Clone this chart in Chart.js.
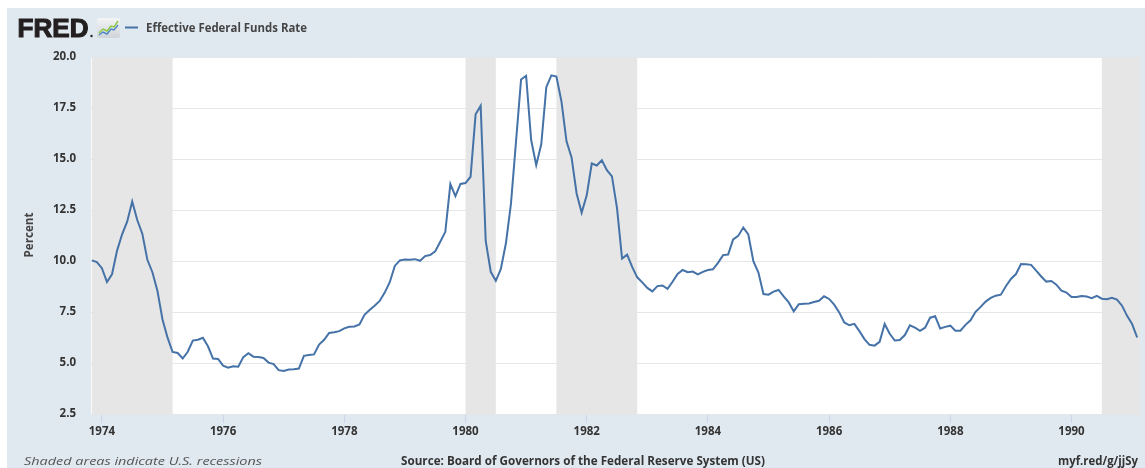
<!DOCTYPE html>
<html><head><meta charset="utf-8">
<script src="https://cdn.jsdelivr.net/npm/chart.js@4.4.1/dist/chart.umd.min.js"></script>
<style>
html,body{margin:0;padding:0;background:#fff;width:1145px;height:468px;overflow:hidden}
#panel{position:absolute;left:7px;top:8px;width:1138px;height:460px;background:#e1e9f0}
#wrap{position:absolute;left:7px;top:8px;width:1138px;height:460px}
#over{position:absolute;left:0;top:0;width:1145px;height:468px;pointer-events:none}
</style></head>
<body>
<div id="panel"></div>
<div id="wrap"><canvas id="c" width="1138" height="460"></canvas></div>
<svg id="over" width="1145" height="468" xmlns="http://www.w3.org/2000/svg">
  <text x="17.5" y="37" font-family="Liberation Sans, Arial, sans-serif" font-weight="bold" font-size="26" fill="#231f20" stroke="#231f20" stroke-width="1.1" textLength="71" lengthAdjust="spacingAndGlyphs">FRED</text>
  <circle cx="91.5" cy="36" r="1.2" fill="#231f20"/>
  <defs><linearGradient id="g" x1="0" y1="0" x2="0" y2="1"><stop offset="0" stop-color="#f4f5f6"/><stop offset="1" stop-color="#cfd4d9"/></linearGradient></defs>
  <rect x="97" y="18" width="23" height="20" rx="2" fill="url(#g)"/>
  <polyline points="99,33 103,29 107,31 111,26 114,27 118,21" fill="none" stroke="#8dc63f" stroke-width="1.4"/>
  <polyline points="99,35 103,32 107,34 111,29 114,30 118,25" fill="none" stroke="#4c86c6" stroke-width="1.4"/>
  <line x1="125" y1="27.5" x2="138" y2="27.5" stroke="#4572a7" stroke-width="2"/>
  <text x="146" y="32" font-family="Open Sans, sans-serif" font-weight="700" font-size="12" fill="#444" textLength="161" lengthAdjust="spacingAndGlyphs">Effective Federal Funds Rate</text>
  <text transform="translate(33,235) rotate(-90)" text-anchor="middle" font-family="Open Sans, sans-serif" font-weight="700" font-size="12" fill="#444" textLength="45" lengthAdjust="spacingAndGlyphs">Percent</text>
  <text x="24" y="465" font-family="Open Sans, sans-serif" font-style="italic" font-size="11.5" fill="#555" textLength="238" lengthAdjust="spacingAndGlyphs">Shaded areas indicate U.S. recessions</text>
  <text x="401" y="465" font-family="Open Sans, sans-serif" font-weight="700" font-size="11.5" fill="#333" textLength="364" lengthAdjust="spacingAndGlyphs">Source: Board of Governors of the Federal Reserve System (US)</text>
  <text x="1058" y="465" font-family="Open Sans, sans-serif" font-weight="700" font-size="11.5" fill="#333" textLength="80" lengthAdjust="spacingAndGlyphs">myf.red/g/jjSy</text>
</svg>
<script>
// Monthly Effective Federal Funds Rate, starting 1973-11
const startYear = 1973, startMonth = 11;
const rates = [
  10.03, 9.95,                                                         // 1973 Nov-Dec
  9.65, 8.97, 9.35, 10.51, 11.31, 11.93, 12.92, 12.01, 11.34, 10.06, 9.45, 8.53, // 1974
  7.13, 6.24, 5.54, 5.49, 5.22, 5.55, 6.10, 6.14, 6.24, 5.82, 5.22, 5.20,       // 1975
  4.87, 4.77, 4.84, 4.82, 5.29, 5.48, 5.31, 5.29, 5.25, 5.02, 4.95, 4.65,       // 1976
  4.61, 4.68, 4.69, 4.73, 5.35, 5.39, 5.42, 5.90, 6.14, 6.47, 6.51, 6.56,       // 1977
  6.70, 6.78, 6.79, 6.89, 7.36, 7.60, 7.81, 8.04, 8.45, 8.96, 9.76, 10.03,      // 1978
  10.07, 10.06, 10.09, 10.01, 10.24, 10.29, 10.47, 10.94, 11.43, 13.77, 13.18, 13.78, // 1979
  13.82, 14.13, 17.19, 17.61, 10.98, 9.47, 9.03, 9.61, 10.87, 12.81, 15.85, 18.90,   // 1980
  19.08, 15.93, 14.70, 15.72, 18.52, 19.10, 19.04, 17.82, 15.87, 15.08, 13.31, 12.37, // 1981
  13.22, 14.78, 14.68, 14.94, 14.45, 14.15, 12.59, 10.12, 10.31, 9.71, 9.20, 8.95,   // 1982
  8.68, 8.51, 8.77, 8.80, 8.63, 8.98, 9.37, 9.56, 9.45, 9.48, 9.34, 9.47,       // 1983
  9.56, 9.59, 9.91, 10.29, 10.32, 11.06, 11.23, 11.64, 11.30, 9.99, 9.43, 8.38, // 1984
  8.35, 8.50, 8.58, 8.27, 7.97, 7.53, 7.88, 7.90, 7.92, 7.99, 8.05, 8.27,       // 1985
  8.14, 7.86, 7.48, 6.99, 6.85, 6.92, 6.56, 6.17, 5.89, 5.85, 6.04, 6.91,       // 1986
  6.43, 6.10, 6.13, 6.37, 6.85, 6.73, 6.58, 6.73, 7.22, 7.29, 6.69, 6.77,       // 1987
  6.83, 6.58, 6.58, 6.87, 7.09, 7.51, 7.75, 8.01, 8.19, 8.30, 8.35, 8.76,       // 1988
  9.12, 9.36, 9.85, 9.84, 9.81, 9.53, 9.24, 8.99, 9.02, 8.84, 8.55, 8.45,       // 1989
  8.23, 8.24, 8.28, 8.26, 8.18, 8.29, 8.15, 8.13, 8.20, 8.11, 7.81, 7.31,       // 1990
  6.91, 6.25                                                           // 1991 Jan-Feb
];
const yearTicks = [1974, 1976, 1978, 1980, 1982, 1984, 1986, 1988, 1990];
const yTicks = [2.5, 5.0, 7.5, 10.0, 12.5, 15.0, 17.5, 20.0];
const recessionStarts = ['1973-11', '1980-01', '1981-07', '1990-07'];
const recessionEnds   = ['1975-03', '1980-07', '1982-11', '1991-03'];

function ym(s){ const [y,m] = s.split('-').map(Number); return y + (m-1)/12; }
const points = rates.map((v,i) => ({x: startYear + (startMonth - 1 + i)/12, y: v}));

const bgPlugin = {
  id: 'bgPlugin',
  beforeDraw(chart){
    const {ctx, chartArea:a} = chart;
    ctx.save(); ctx.fillStyle = '#ffffff';
    ctx.fillRect(a.left, a.top, a.right - a.left, a.bottom - a.top);
    ctx.restore();
  },
  beforeDatasetsDraw(chart){
    const {ctx, chartArea:a, scales:{x}} = chart;
    ctx.save(); ctx.fillStyle = '#e6e6e6';
    recessionStarts.forEach((s,i) => {
      let x0 = Math.max(a.left, x.getPixelForValue(ym(s)));
      let x1 = Math.min(a.right, x.getPixelForValue(ym(recessionEnds[i])));
      if (x1 > x0) ctx.fillRect(x0, a.top, x1 - x0, a.bottom - a.top);
    });
    ctx.restore();
  }
};

const tickFont = {family: 'Open Sans', weight: '700', size: 11.5};
new Chart(document.getElementById('c'), {
  type: 'line',
  data: { datasets: [{
    label: 'Effective Federal Funds Rate',
    data: points,
    borderColor: '#4572a7', borderWidth: 2, pointRadius: 0, tension: 0, fill: false
  }]},
  options: {
    responsive: false, animation: false,
    layout: {padding: {top: 49, right: 5, left: 0, bottom: 0}},
    plugins: {legend: {display: false}, tooltip: {enabled: false}},
    scales: {
      x: {
        type: 'linear', min: 1973.82, max: 1991.13,
        afterBuildTicks: s => { s.ticks = yearTicks.map(v => ({value: v})); },
        afterFit: s => { s.height = 54; },
        ticks: {callback: v => String(v), font: tickFont, color: '#333', padding: 2, maxRotation: 0, autoSkip: false},
        grid: {drawOnChartArea: false, drawTicks: true, tickLength: 9, color: '#ccd6eb'},
        border: {display: false}
      },
      y: {
        min: 2.5, max: 20,
        afterBuildTicks: s => { s.ticks = yTicks.map(v => ({value: v})); },
        afterFit: s => { s.width = 84; },
        ticks: {callback: v => v.toFixed(1), font: tickFont, color: '#333', padding: 15},
        grid: {drawTicks: false, color: '#e6e6e6'},
        border: {display: false}
      }
    }
  },
  plugins: [bgPlugin]
});
</script>
</body></html>
